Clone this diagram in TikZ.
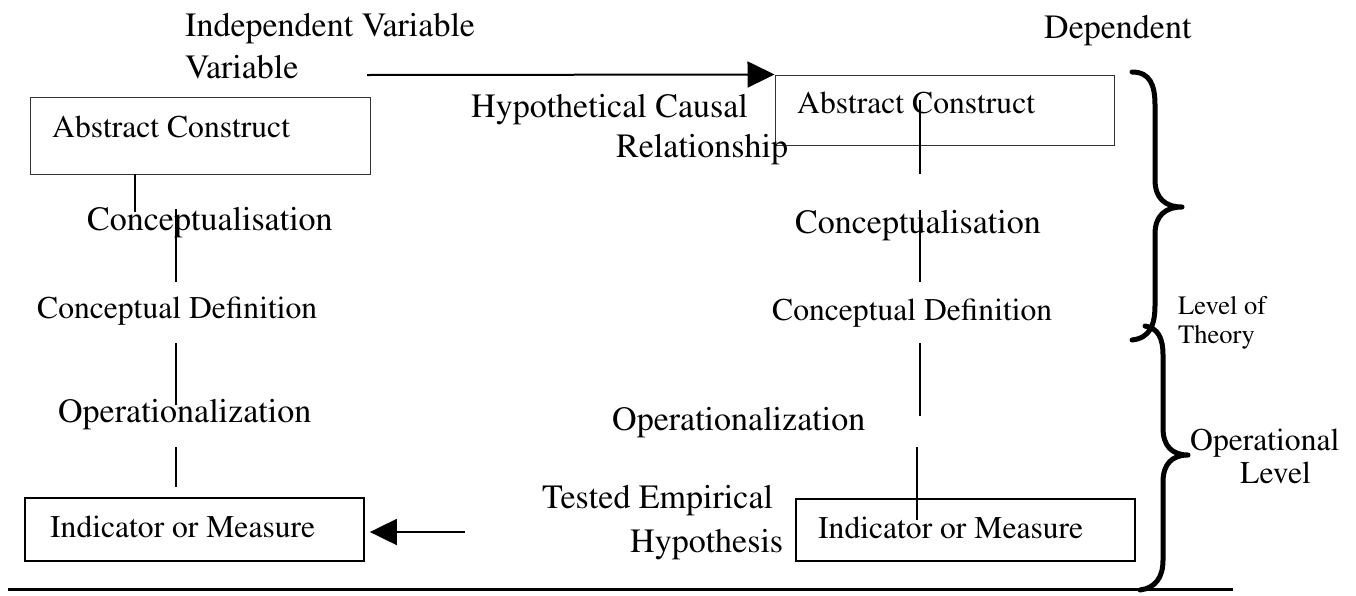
\documentclass[tikz,border=0pt]{standalone}
\IfFileExists{t1ptm.fd}{\usepackage[T1]{fontenc}\renewcommand{\rmdefault}{ptm}}{\usepackage{fontspec}\setmainfont{Liberation Serif}}
\usetikzlibrary{arrows.meta}
\begin{document}
\begin{tikzpicture}[x=1pt,y=-1pt,
  big/.style={font=\fontsize{34}{40}\selectfont, inner sep=0pt, anchor=base west},
  med/.style={font=\fontsize{31.6}{38}\selectfont, inner sep=0pt, anchor=base west},
  sml/.style={font=\fontsize{26.5}{30}\selectfont, inner sep=0pt, anchor=base west},
  boxa/.style={draw=black!80, line width=1pt, rectangle, inner sep=0pt},
  boxb/.style={draw=black, line width=1.8pt, rectangle, inner sep=0pt},
  link/.style={line width=1.5pt},
  causal/.style={line width=2pt, -{Triangle[length=27pt,width=26pt]}},
  brace/.style={line width=5pt, line cap=round, line join=round}
]
\fill[white] (0,0) rectangle (1356,595);
\useasboundingbox (0,0) rectangle (1356,595);

% boxes
\node[boxa, minimum width=340pt, minimum height=77pt] (lac) at (200,135.5) {};
\node[boxa, minimum width=339pt, minimum height=70pt] (rac) at (944.5,110) {};
\node[boxb, minimum width=339pt, minimum height=63pt] (lim) at (194.5,529.5) {};
\node[boxb, minimum width=339pt, minimum height=62pt] (rim) at (965.5,530) {};

% texts
\node[big] (iv) at (185,36) {Independent Variable};
\node[big] (v) at (185,78) {Variable};
\node[big] (dep) at (1044,38) {Dependent};
\node[med] (lact) at (52,137) {Abstract Construct};
\node[med] (ract) at (797,113) {Abstract Construct};
\node[big] (hc) at (471,117) {Hypothetical Causal};
\node[big] (rel) at (616,157) {Relationship};
\node[big] (lcz) at (87,230) {Conceptualisation};
\node[big] (rcz) at (795,233) {Conceptualisation};
\node[med] (lcd) at (37,318) {Conceptual Definition};
\node[med] (rcd) at (772,320) {Conceptual Definition};
\node[big] (lop) at (58,422) {Operationalization};
\node[big] (rop) at (612,430) {Operationalization};
\node[med] (limt) at (50,537) {Indicator or Measure};
\node[med] (rimt) at (818,538) {Indicator or Measure};
\node[big] (te) at (542,508) {Tested Empirical};
\node[big] (hy) at (630,552) {Hypothesis};
\node[sml] (lt1) at (1178,314) {Level of};
\node[sml] (lt2) at (1178,343) {Theory};
\node[med] (ol1) at (1190,450) {Operational};
\node[med] (ol2) at (1240,483) {Level};

% vertical link segments
\coordinate (l1a) at (135,174); \coordinate (l1b) at (135,212);
\coordinate (l2a) at (176,209); \coordinate (l2b) at (176,282);
\coordinate (l3a) at (176,343); \coordinate (l3b) at (176,405);
\coordinate (l4a) at (176,447); \coordinate (l4b) at (176,487);
\coordinate (r1a) at (920,100); \coordinate (r1b) at (920,174);
\coordinate (r2a) at (920,210); \coordinate (r2b) at (920,282);
\coordinate (r3a) at (920,343); \coordinate (r3b) at (920,416);
\coordinate (r4a) at (917,447); \coordinate (r4b) at (917,520);
\foreach \s in {l1,l2,l3,l4,r1,r2,r3,r4} \draw[link] (\s a) -- (\s b);

% arrows
\coordinate (ca) at (367,75);
\draw[causal] (ca) -- (rac.north west);
\coordinate (ta) at (465,532);
\draw[causal, shorten >=5pt] (ta) -- (ta -| lim.east);

% bottom rule
\coordinate (b0) at (8,589); \coordinate (b1) at (1233,589);
\draw[line width=3pt] (b0) -- (b1);

% braces
\draw[brace] (1132,72) .. controls (1150,72) and (1155,85) .. (1155,105) -- (1155,180)
  .. controls (1155,198) and (1165,207) .. (1182,207)
  .. controls (1165,207) and (1155,216) .. (1155,234) -- (1155,305)
  .. controls (1155,325) and (1150,338) .. (1132,340);
\draw[brace] (1145,326) .. controls (1158,328) and (1163,338) .. (1163,355) -- (1163,428)
  .. controls (1163,446) and (1172,455) .. (1188,455)
  .. controls (1172,455) and (1163,464) .. (1163,482) -- (1163,560)
  .. controls (1163,578) and (1155,588) .. (1140,590);
\end{tikzpicture}
\end{document}
